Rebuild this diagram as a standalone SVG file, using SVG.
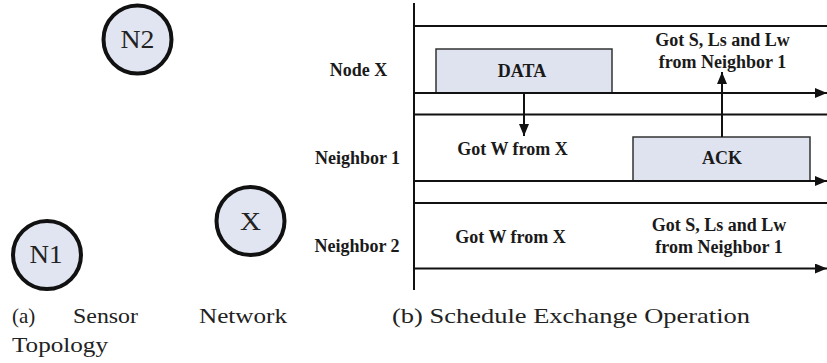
<svg xmlns="http://www.w3.org/2000/svg" width="827" height="363" viewBox="0 0 827 363">
  <style>
    .node circle { fill: #e1e5f1; stroke: #111; stroke-width: 4; }
    .node text { font-size: 25px; fill: #222; text-anchor: middle; }
    .cap { font-size: 21px; fill: #222; }
    .lbl { font-size: 18px; font-weight: bold; fill: #1a1a1a; text-anchor: middle; }
    .axis { stroke: #111; stroke-width: 2; fill: none; }
    .box { fill: #dfe3f0; stroke: #333; stroke-width: 1.5; }
  </style>
  <defs>
    <marker id="arrow" viewBox="0 0 12 10" refX="12" refY="5" markerWidth="12" markerHeight="10" markerUnits="userSpaceOnUse" orient="auto">
      <path d="M0,0 L12,5 L0,10 Z" fill="#111"/>
    </marker>
  </defs>

  <g font-family="'Liberation Serif', 'Times New Roman', Tinos, serif">
  <!-- (a) topology -->
  <g id="node-n2" class="node">
    <circle cx="137.5" cy="39.5" r="34"/>
    <text x="137.5" y="48" textLength="34" lengthAdjust="spacingAndGlyphs">N2</text>
  </g>
  <g id="node-x" class="node">
    <circle cx="250.5" cy="221" r="34"/>
    <text x="250.5" y="230" textLength="21" lengthAdjust="spacingAndGlyphs">X</text>
  </g>
  <g id="node-n1" class="node">
    <circle cx="47" cy="255" r="34"/>
    <text x="46" y="263" textLength="33" lengthAdjust="spacingAndGlyphs">N1</text>
  </g>

  <g id="caption-a" class="cap">
    <text x="12" y="323">(a)</text>
    <text x="73" y="323" textLength="65" lengthAdjust="spacingAndGlyphs">Sensor</text>
    <text x="199" y="323" textLength="88" lengthAdjust="spacingAndGlyphs">Network</text>
    <text x="12" y="352" textLength="96" lengthAdjust="spacingAndGlyphs">Topology</text>
  </g>

  <!-- (b) timeline -->
  <g id="boxes">
    <g id="data">
      <rect class="box" x="436" y="49" width="176" height="44"/>
      <text class="lbl" x="522" y="77">DATA</text>
    </g>
    <g id="ack">
      <rect class="box" x="633" y="137" width="177" height="44"/>
      <text class="lbl" x="722" y="164">ACK</text>
    </g>
  </g>

  <g id="connectors">
    <line class="axis" x1="414" y1="3" x2="414" y2="290" stroke-width="2.5"/>
    <line class="axis" x1="414" y1="26" x2="827" y2="26"/>
    <line class="axis" x1="414" y1="93" x2="827" y2="93" marker-end="url(#arrow)"/>
    <line class="axis" x1="414" y1="114.5" x2="827" y2="114.5"/>
    <line class="axis" x1="414" y1="181" x2="827" y2="181" marker-end="url(#arrow)"/>
    <line class="axis" x1="414" y1="203" x2="827" y2="203"/>
    <line class="axis" x1="414" y1="268.5" x2="827" y2="268.5" marker-end="url(#arrow)"/>
    <line class="axis" x1="524" y1="93" x2="524" y2="136" marker-end="url(#arrow)"/>
    <line class="axis" x1="722" y1="137" x2="722" y2="72" marker-end="url(#arrow)"/>
  </g>

  <g id="row-labels">
    <text class="lbl" x="358.5" y="76">Node X</text>
    <text class="lbl" x="357.5" y="164">Neighbor 1</text>
    <text class="lbl" x="357" y="252">Neighbor 2</text>
  </g>

  <g id="messages">
    <text class="lbl" x="722.5" y="46">Got S, Ls and Lw</text>
    <text class="lbl" x="722.5" y="68">from Neighbor 1</text>
    <text class="lbl" x="512.5" y="155">Got W from X</text>
    <text class="lbl" x="510.5" y="243">Got W from X</text>
    <text class="lbl" x="719" y="231">Got S, Ls and Lw</text>
    <text class="lbl" x="719" y="253">from Neighbor 1</text>
  </g>

  <text id="caption-b" class="cap" x="392" y="323" textLength="358" lengthAdjust="spacingAndGlyphs">(b) Schedule Exchange Operation</text>
  </g>
</svg>
